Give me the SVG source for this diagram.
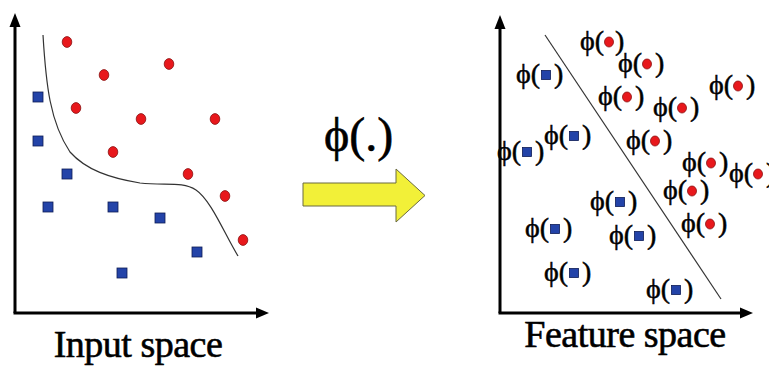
<svg xmlns="http://www.w3.org/2000/svg" width="769" height="366" viewBox="0 0 769 366">
<style>
.ax{stroke:#000;stroke-width:3;fill:none}
.ah{fill:#000}
.rc{fill:#e8181c;stroke:#8a1010;stroke-width:0.8}
.bs{fill:#2343a8;stroke:#0d1c55;stroke-width:0.8}
.sep{stroke:#333;stroke-width:1.2;fill:none}
.lb{font-family:"Liberation Serif","DejaVu Serif","Times New Roman",serif;font-size:28px;fill:#000;stroke:#000;stroke-width:0.5}
.big{font-family:"Liberation Serif","Times New Roman",serif;font-size:38px;fill:#000;stroke:#000;stroke-width:0.6;text-anchor:middle;letter-spacing:-0.5px}
.phi{font-family:"Liberation Serif","DejaVu Serif","Times New Roman",serif;font-size:48px;fill:#000;stroke:#000;stroke-width:0.6}
.e{text-anchor:end}
</style>
<g id="input-axes">
<line class="ax" x1="15" y1="313" x2="15" y2="24"/>
<line class="ax" x1="13.5" y1="313" x2="259" y2="313"/>
<polygon class="ah" points="15,13 9.5,27 20.5,27"/>
<polygon class="ah" points="269,313 256,307.5 256,318.5"/>
</g>
<g id="input-boundary">
<path class="sep" d="M43,35 C46,85 50,122 70,152 C86,170 110,178 140,183 C165,186 182,181 196,190 C211,200 225,235 238,256"/>
</g>
<g id="input-red">
<ellipse class="rc" cx="67" cy="42" rx="4.8" ry="5.4"/>
<ellipse class="rc" cx="104" cy="75" rx="4.8" ry="5.4"/>
<ellipse class="rc" cx="169" cy="64" rx="4.8" ry="5.4"/>
<ellipse class="rc" cx="76" cy="108" rx="4.8" ry="5.4"/>
<ellipse class="rc" cx="141" cy="119" rx="4.8" ry="5.4"/>
<ellipse class="rc" cx="215" cy="119" rx="4.8" ry="5.4"/>
<ellipse class="rc" cx="113" cy="152" rx="4.8" ry="5.4"/>
<ellipse class="rc" cx="188" cy="174" rx="4.8" ry="5.4"/>
<ellipse class="rc" cx="225" cy="196" rx="4.8" ry="5.4"/>
<ellipse class="rc" cx="243" cy="240" rx="4.8" ry="5.4"/>
</g>
<g id="input-blue">
<rect class="bs" x="33" y="92" width="10" height="10"/>
<rect class="bs" x="33" y="136" width="10" height="10"/>
<rect class="bs" x="62" y="169" width="10" height="10"/>
<rect class="bs" x="43" y="202" width="10" height="10"/>
<rect class="bs" x="108" y="202" width="10" height="10"/>
<rect class="bs" x="155" y="213" width="10" height="10"/>
<rect class="bs" x="192" y="247" width="10" height="10"/>
<rect class="bs" x="117" y="268" width="10" height="10"/>
</g>
<text id="input-label" class="big" x="138" y="357">Input space</text>

<g id="mapping">
<text class="phi" x="324" y="151">ϕ(.)</text>
<polygon points="303,183 396,183 396,169 425,195.5 396,222 396,206 303,206" fill="#f2f038" stroke="#6a6a40" stroke-width="1"/>
</g>

<g id="feature-axes">
<line class="ax" x1="500" y1="313" x2="500" y2="26"/>
<line class="ax" x1="498.5" y1="313" x2="742" y2="313"/>
<polygon class="ah" points="500,15 494.5,29 505.5,29"/>
<polygon class="ah" points="753,313 740,307.5 740,318.5"/>
</g>
<g id="feature-boundary">
<line class="sep" x1="545" y1="35" x2="721" y2="299"/>
</g>
<g id="feature-red">
<g><text class="lb e" x="604" y="50">ϕ(</text><ellipse class="rc" cx="609" cy="42" rx="4.5" ry="5"/><text class="lb" x="615" y="50">)</text></g>
<g><text class="lb e" x="642" y="72">ϕ(</text><ellipse class="rc" cx="647" cy="64" rx="4.5" ry="5"/><text class="lb" x="655" y="72">)</text></g>
<g><text class="lb e" x="622" y="105">ϕ(</text><ellipse class="rc" cx="627" cy="97" rx="4.5" ry="5"/><text class="lb" x="635" y="105">)</text></g>
<g><text class="lb e" x="677" y="116">ϕ(</text><ellipse class="rc" cx="682" cy="108" rx="4.5" ry="5"/><text class="lb" x="690" y="116">)</text></g>
<g><text class="lb e" x="733" y="94">ϕ(</text><ellipse class="rc" cx="738" cy="86" rx="4.5" ry="5"/><text class="lb" x="746" y="94">)</text></g>
<g><text class="lb e" x="650" y="149">ϕ(</text><ellipse class="rc" cx="655" cy="141" rx="4.5" ry="5"/><text class="lb" x="663" y="149">)</text></g>
<g><text class="lb e" x="706" y="171">ϕ(</text><ellipse class="rc" cx="711" cy="163" rx="4.5" ry="5"/><text class="lb" x="719" y="171">)</text></g>
<g><text class="lb e" x="753" y="182">ϕ(</text><ellipse class="rc" cx="758" cy="174" rx="4.5" ry="5"/><text class="lb" x="766" y="182">)</text></g>
<g><text class="lb e" x="687" y="199">ϕ(</text><ellipse class="rc" cx="692" cy="191" rx="4.5" ry="5"/><text class="lb" x="700" y="199">)</text></g>
<g><text class="lb e" x="705" y="232">ϕ(</text><ellipse class="rc" cx="710" cy="224" rx="4.5" ry="5"/><text class="lb" x="718" y="232">)</text></g>
</g>
<g id="feature-blue">
<g><text class="lb e" x="540" y="83">ϕ(</text><rect class="bs" x="541.5" y="70.5" width="9" height="9"/><text class="lb" x="554" y="83">)</text></g>
<g><text class="lb e" x="568" y="144">ϕ(</text><rect class="bs" x="569.5" y="131.5" width="9" height="9"/><text class="lb" x="582" y="144">)</text></g>
<g><text class="lb e" x="521" y="160">ϕ(</text><rect class="bs" x="522.5" y="147.5" width="9" height="9"/><text class="lb" x="535" y="160">)</text></g>
<g><text class="lb e" x="614" y="210">ϕ(</text><rect class="bs" x="615.5" y="197.5" width="9" height="9"/><text class="lb" x="628" y="210">)</text></g>
<g><text class="lb e" x="549" y="237">ϕ(</text><rect class="bs" x="550.5" y="224.5" width="9" height="9"/><text class="lb" x="563" y="237">)</text></g>
<g><text class="lb e" x="633" y="244">ϕ(</text><rect class="bs" x="634.5" y="231.5" width="9" height="9"/><text class="lb" x="647" y="244">)</text></g>
<g><text class="lb e" x="568" y="281">ϕ(</text><rect class="bs" x="569.5" y="268.5" width="9" height="9"/><text class="lb" x="582" y="281">)</text></g>
<g><text class="lb e" x="670" y="298">ϕ(</text><rect class="bs" x="671.5" y="285.5" width="9" height="9"/><text class="lb" x="684" y="298">)</text></g>
</g>
<text id="feature-label" class="big" x="625" y="347">Feature space</text>
</svg>
